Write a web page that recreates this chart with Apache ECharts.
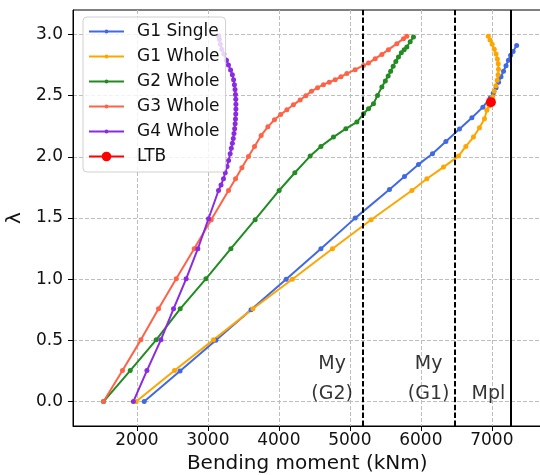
<!DOCTYPE html>
<html>
<head>
<meta charset="utf-8">
<script src="https://cdn.jsdelivr.net/npm/echarts@6/dist/echarts.min.js"></script>
<style>html,body{margin:0;padding:0;background:#fff;}#c{width:540px;height:475px;}</style>
</head>
<body>
<div id="c"></div>
<script>
// ---- data ----
const seriesNames = ['G1 Single', 'G1 Whole', 'G2 Whole', 'G3 Whole', 'G4 Whole', 'LTB'];
const xTicks = [2000, 3000, 4000, 5000, 6000, 7000];
const yTicks = [0, 0.5, 1, 1.5, 2, 2.5, 3];

const g1SingleM = [2103, 2608, 3113, 3608, 4103, 4592, 5075, 5558, 5770, 5967, 6164, 6353, 6544, 6719, 6874, 6977, 7020, 7060, 7095, 7130, 7165, 7200, 7234, 7265, 7300, 7350];
const g1SingleL = [0, 0.25, 0.5, 0.75, 1.0, 1.249, 1.499, 1.733, 1.84, 1.938, 2.025, 2.126, 2.227, 2.32, 2.406, 2.48, 2.52, 2.565, 2.61, 2.655, 2.70, 2.745, 2.79, 2.83, 2.86, 2.91];

const g1WholeM = [1990, 2530, 3079, 3634, 4190, 4755, 5300, 5874, 6085, 6319, 6530, 6634, 6741, 6826, 6897, 6930, 6960, 6987, 7012, 7035, 7057, 7075, 7088, 7094, 7090, 7078, 7060, 7035, 7005, 6975, 6950];
const g1WholeL = [0, 0.253, 0.504, 0.758, 1.0, 1.249, 1.486, 1.725, 1.821, 1.916, 2.006, 2.085, 2.161, 2.238, 2.311, 2.38, 2.415, 2.447, 2.49, 2.535, 2.58, 2.625, 2.67, 2.715, 2.76, 2.80, 2.84, 2.88, 2.92, 2.955, 2.985];

const g2WholeM = [1530, 1906, 2272, 2610, 2972, 3324, 3666, 4004, 4225, 4441, 4592, 4769, 4944, 5099, 5192, 5263, 5333, 5390, 5451, 5500, 5540, 5575, 5610, 5648, 5685, 5725, 5765, 5803, 5850, 5896];
const g2WholeL = [0, 0.253, 0.504, 0.758, 1.003, 1.249, 1.486, 1.725, 1.87, 2.006, 2.085, 2.161, 2.23, 2.284, 2.352, 2.393, 2.434, 2.502, 2.57, 2.62, 2.66, 2.70, 2.74, 2.78, 2.815, 2.85, 2.875, 2.897, 2.94, 2.979];

const g3WholeM = [1530, 1797, 2056, 2305, 2554, 2807, 3047, 3291, 3390, 3479, 3572, 3657, 3751, 3845, 3938, 4025, 4113, 4205, 4300, 4380, 4459, 4545, 4628, 4710, 4793, 4875, 4958, 5075, 5192, 5263, 5357, 5451, 5544, 5662, 5756, 5803];
const g3WholeL = [0, 0.253, 0.504, 0.758, 1.003, 1.249, 1.486, 1.725, 1.82, 1.911, 2.003, 2.085, 2.175, 2.245, 2.303, 2.345, 2.385, 2.425, 2.465, 2.5, 2.535, 2.565, 2.59, 2.61, 2.63, 2.655, 2.68, 2.712, 2.747, 2.766, 2.802, 2.837, 2.876, 2.925, 2.966, 2.985];

const g4WholeM = [1950, 2141, 2338, 2516, 2694, 2859, 3009, 3150, 3185, 3220, 3245, 3270, 3292, 3314, 3330, 3345, 3358, 3368, 3377, 3384, 3389, 3393, 3395, 3395, 3393, 3389, 3383, 3374, 3362, 3345, 3320, 3290, 3262, 3225, 3195, 3175, 3162, 3152];
const g4WholeL = [0, 0.253, 0.504, 0.758, 1.003, 1.249, 1.494, 1.725, 1.77, 1.82, 1.87, 1.92, 1.97, 2.025, 2.07, 2.11, 2.15, 2.19, 2.23, 2.27, 2.31, 2.35, 2.39, 2.43, 2.47, 2.51, 2.55, 2.59, 2.63, 2.67, 2.71, 2.75, 2.79, 2.84, 2.88, 2.92, 2.96, 2.99];

const ltbM = [6987];
const ltbL = [2.447];

const myG2 = 5178;
const myG1 = 6477;
const mplM = 7263;

const annoText = ['My', '(G2)', 'My', '(G1)', 'Mpl'];
const annoM = [4750, 4750, 6110, 6110, 6953];
const annoL = [0.31, 0.06, 0.31, 0.06, 0.06];

// ---- chart ----
const colors = ['#4169E1', '#FFA500', '#228B22', '#FF6347', '#8A2BE2', '#FF0000'];
const zip = (a, b) => a.map((v, i) => [v, b[i]]);
const curves = [[g1SingleM, g1SingleL], [g1WholeM, g1WholeL], [g2WholeM, g2WholeL], [g3WholeM, g3WholeL], [g4WholeM, g4WholeL]];
const FONT = 'DejaVu Sans';
const lineIcon = 'path://M0,0M35,12M0,5L35,5L35,7L0,7ZM15.5,6A2,2,0,1,1,19.5,6A2,2,0,1,1,15.5,6Z';

const series = [];
series.push({
  name: 'limits', type: 'line', data: [], silent: true, z: 1,
  markLine: {
    silent: true, symbol: ['none', 'none'], animation: false,
    label: { show: false },
    data: [
      { xAxis: myG2, lineStyle: { color: '#000', width: 2, type: [5.5, 2.4] } },
      { xAxis: myG1, lineStyle: { color: '#000', width: 2, type: [5.5, 2.4] } },
      { xAxis: mplM, lineStyle: { color: '#000', width: 2, type: 'solid' } }
    ]
  }
});
curves.forEach((c, i) => {
  series.push({
    name: seriesNames[i], type: 'line', data: zip(c[0], c[1]),
    symbol: 'circle', symbolSize: 5, showAllSymbol: true,
    itemStyle: { color: colors[i], borderWidth: 0 },
    lineStyle: { color: colors[i], width: 2 },
    z: 2
  });
});
series.push({
  name: 'LTB', type: 'line', data: zip(ltbM, ltbL),
  symbol: 'circle', symbolSize: 10,
  itemStyle: { color: colors[5], borderWidth: 0 },
  lineStyle: { color: colors[5], width: 2 },
  z: 3
});
series.push({
  name: 'labels', type: 'scatter', symbolSize: 0, silent: true, z: 3,
  data: annoText.map((t, i) => ({ name: t, value: [annoM[i], annoL[i]] })),
  label: { show: true, position: 'inside', formatter: '{b}', fontSize: 19, color: '#000', fontFamily: FONT }
});

const chart = echarts.init(document.getElementById('c'), null, { renderer: 'canvas' });
chart.setOption({
  animation: false,
  backgroundColor: '#fff',
  textStyle: { fontFamily: FONT },
  grid: { left: 73, right: -1.5, top: 10, bottom: 49, containLabel: false, outerBoundsMode: 'none',
    show: true, borderColor: '#000', borderWidth: 1, backgroundColor: 'transparent' },
  legend: {
    z: 20,
    orient: 'vertical', left: 83, top: 17,
    itemWidth: 35, itemHeight: 12, itemGap: 8,
    padding: [6, 6, 7, 5],
    backgroundColor: 'rgba(255,255,255,0.8)', borderColor: '#d0d0d0', borderWidth: 1, borderRadius: 4,
    textStyle: { fontSize: 17, color: '#111', fontFamily: FONT, padding: [0, 0, 0, 8] },
    data: seriesNames.map((n, i) => i < 5 ? { name: n, icon: lineIcon } : { name: n })
  },
  xAxis: {
    type: 'value', min: 1100, max: 7700, splitNumber: 7,
    name: 'Bending moment (kNm)', nameLocation: 'middle', nameGap: 28,
    nameTextStyle: { fontSize: 20, color: '#111', fontFamily: FONT },
    axisLine: { show: true, onZero: false, lineStyle: { color: '#000', width: 1 } },
    axisTick: { show: true, length: 5, lineStyle: { color: '#000' }, customValues: xTicks },
    axisLabel: { fontSize: 17, color: '#111', margin: 6, customValues: xTicks, formatter: v => String(v) },
    splitLine: { show: true, lineStyle: { color: '#bdbdbd', width: 1, type: [4, 2] } }
  },
  yAxis: {
    type: 'value', min: -0.2, max: 3.2, splitNumber: 7,
    name: 'λ', nameLocation: 'middle', nameGap: 42, nameRotate: 90,
    nameTextStyle: { fontSize: 20, color: '#111', fontFamily: FONT },
    axisLine: { show: true, onZero: false, lineStyle: { color: '#000', width: 1 } },
    axisTick: { show: true, length: 5, lineStyle: { color: '#000' }, customValues: yTicks },
    axisLabel: { fontSize: 17, color: '#111', margin: 10, customValues: yTicks, formatter: v => v.toFixed(1) },
    splitLine: { show: true, lineStyle: { color: '#bdbdbd', width: 1, type: [4, 2] } }
  },
  series: series
});
</script>
</body>
</html>
